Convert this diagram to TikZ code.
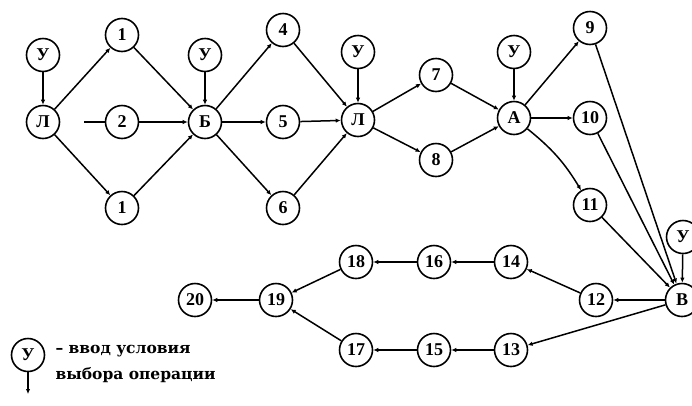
\documentclass[tikz,border=0pt]{standalone}
\usepackage{fontspec}
\setmainfont{Liberation Serif}
\newfontfamily\legfont{DejaVu Serif}
\usetikzlibrary{arrows.meta}

\tikzset{
  op/.style={draw, line width=1.6pt, circle, minimum size=33pt, inner sep=0pt,
    font=\fontsize{18}{18}\selectfont\bfseries},
  arr/.style={line width=1.5pt, -{Latex[length=5pt,width=4.5pt]}},
}

\begin{document}
\begin{tikzpicture}[x=1pt, y=-1pt]
  \useasboundingbox (0,0) rectangle (692,405);

  % верхняя ветка
  \node [op] (u1) at (43,55) {У};
  \node [op] (l1) at (43,122) {Л};
  \node [op] (n1a) at (122,35) {1};
  \node [op] (n2) at (122,122) {2};
  \node [op] (n1b) at (122,208) {1};
  \coordinate (g) at (84,122);
  \node [op] (u2) at (205,55) {У};
  \node [op] (b) at (205,122) {Б};
  \node [op] (n4) at (283,30) {4};
  \node [op] (n5) at (283,122) {5};
  \node [op] (n6) at (283,208) {6};
  \node [op] (u3) at (358,52) {У};
  \node [op] (l2) at (358,120) {Л};
  \node [op] (n7) at (436,75) {7};
  \node [op] (n8) at (436,160) {8};
  \node [op] (u4) at (514,52) {У};
  \node [op] (a) at (514,118) {А};
  \node [op] (n9) at (590,28) {9};
  \node [op] (n10) at (590,118) {10};
  \node [op] (n11) at (590,205) {11};

  % нижняя ветка
  \node [op] (u5) at (683,237) {У};
  \node [op] (v) at (682,300) {В};
  \node [op] (n12) at (596,300) {12};
  \node [op] (n14) at (511,262) {14};
  \node [op] (n16) at (434,262) {16};
  \node [op] (n18) at (356,262) {18};
  \node [op] (n19) at (276,300) {19};
  \node [op] (n20) at (195,300) {20};
  \node [op] (n13) at (511,350) {13};
  \node [op] (n15) at (434,350) {15};
  \node [op] (n17) at (356,350) {17};

  % стрелки
  \draw [arr] (u1) -- (l1);
  \draw [arr] (l1) -- (n1a);
  \draw [arr] (l1) -- (n1b);
  \draw [line width=1.5pt] (g) -- (n2);
  \draw [arr] (n1a) -- (b);
  \draw [arr] (n2) -- (b);
  \draw [arr] (n1b) -- (b);
  \draw [arr] (u2) -- (b);
  \draw [arr] (b) -- (n4);
  \draw [arr] (b) -- (n5);
  \draw [arr] (b) -- (n6);
  \draw [arr] (n4) -- (l2);
  \draw [arr] (n5) -- (l2);
  \draw [arr] (n6) -- (l2);
  \draw [arr] (u3) -- (l2);
  \draw [arr] (l2) -- (n7);
  \draw [arr] (l2) -- (n8);
  \draw [arr] (n7) -- (a);
  \draw [arr] (n8) -- (a);
  \draw [arr] (u4) -- (a);
  \draw [arr] (a) -- (n9);
  \draw [arr] (a) -- (n10);
  \draw [arr] (a) to [bend left=10] (n11);
  \draw [arr] (n9) -- (v);
  \draw [arr] (n10) -- (v);
  \draw [arr] (n11) -- (v);
  \draw [arr] (u5) -- (v);
  \draw [arr] (v) -- (n12);
  \draw [arr] (n12) -- (n14);
  \draw [arr] (n14) -- (n16);
  \draw [arr] (n16) -- (n18);
  \draw [arr] (n18) -- (n19);
  \draw [arr] (v) -- (n13);
  \draw [arr] (n13) -- (n15);
  \draw [arr] (n15) -- (n17);
  \draw [arr] (n17) -- (n19);
  \draw [arr] (n19) -- (n20);

  % обозначение
  \node [op] (uL) at (28,355) {У};
  \coordinate (uLe) at (28,394);
  \draw [arr] (uL) -- (uLe);
  \node [anchor=north west, align=left, font=\legfont\fontsize{15.5}{26}\selectfont\bfseries]
    (leg) at (52,342) {– ввод условия\\выбора операции};
\end{tikzpicture}
\end{document}
